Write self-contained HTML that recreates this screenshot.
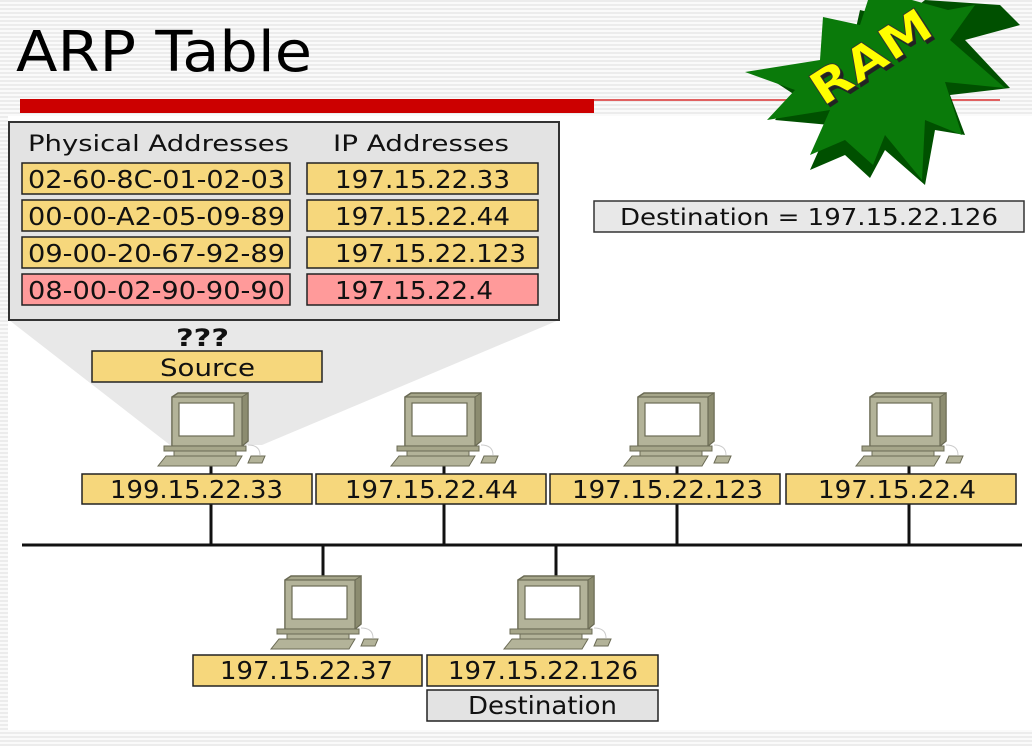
<!DOCTYPE html>
<html><head><meta charset="utf-8"><style>
html,body{margin:0;padding:0;background:#fff;}
svg{display:block;}
text{font-family:"DejaVu Sans","Liberation Sans",sans-serif;fill:#111;}
</style></head><body>
<svg width="1032" height="746" viewBox="0 0 1032 746" xmlns="http://www.w3.org/2000/svg">
<defs>
<pattern id="st" width="4" height="4" patternUnits="userSpaceOnUse"><rect width="4" height="2" fill="#ececec"/><rect y="2" width="4" height="2" fill="#fafafa"/></pattern>
<g id="pc">
  <path d="M2 4 L8 0 L78 0 L78 48 L72 53 L2 53 Z" fill="#a6a68a" stroke="#6b6b55" stroke-width="1.5"/>
  <path d="M72 4 L78 0 L78 48 L72 53 Z" fill="#8c8c70" stroke="#6b6b55" stroke-width="1"/>
  <rect x="2" y="4" width="70" height="49" fill="#b3b399" stroke="#6b6b55" stroke-width="1.2"/>
  <rect x="9" y="10" width="55" height="33" fill="#fff" stroke="#6b6b55" stroke-width="1.2"/>
  <rect x="-6" y="53" width="82" height="5" fill="#a6a68a" stroke="#6b6b55" stroke-width="1"/>
  <rect x="4" y="58" width="62" height="5" fill="#b3b399" stroke="#6b6b55" stroke-width="1"/>
  <path d="M-4 63 L72 63 L66 73 L-12 73 Z" fill="#b3b399" stroke="#6b6b55" stroke-width="1"/>
  <path d="M78 52 Q90 52 90 62" fill="none" stroke="#ccc" stroke-width="1"/>
  <path d="M81 63 L95 63 L92 70 L78 70 Z" fill="#b3b399" stroke="#6b6b55" stroke-width="1"/>
</g>
</defs>
<rect x="0" y="0" width="1032" height="116" fill="url(#st)"/>
<rect x="0" y="116" width="8" height="620" fill="url(#st)"/>
<rect x="0" y="730" width="1032" height="16" fill="url(#st)"/>
<text x="16" y="71" font-size="56" textLength="296" lengthAdjust="spacingAndGlyphs" style="fill:#000">ARP Table</text>
<rect x="20" y="99" width="574" height="14" fill="#cc0000"/>
<rect x="594" y="99" width="406" height="2" fill="#e06060"/>

<polygon points="9,320 559,320 262,445 170,445" fill="#e8e8e8"/>
<rect x="9" y="122" width="550" height="198" fill="#e3e3e3" stroke="#333" stroke-width="2"/>
<text x="28" y="151" font-size="22" textLength="261" lengthAdjust="spacingAndGlyphs">Physical Addresses</text>
<text x="333" y="151" font-size="22" textLength="176" lengthAdjust="spacingAndGlyphs">IP Addresses</text>
<g stroke="#222" stroke-width="1.5">
<rect x="22" y="163" width="268" height="31" fill="#f6d77c"/>
<rect x="22" y="200" width="268" height="31" fill="#f6d77c"/>
<rect x="22" y="237" width="268" height="31" fill="#f6d77c"/>
<rect x="22" y="274" width="268" height="31" fill="#ff9a9a"/>
<rect x="307" y="163" width="231" height="31" fill="#f6d77c"/>
<rect x="307" y="200" width="231" height="31" fill="#f6d77c"/>
<rect x="307" y="237" width="231" height="31" fill="#f6d77c"/>
<rect x="307" y="274" width="231" height="31" fill="#ff9a9a"/>
</g>
<g font-size="25">
<text x="28" y="188" textLength="257" lengthAdjust="spacingAndGlyphs">02-60-8C-01-02-03</text>
<text x="28" y="225" textLength="257" lengthAdjust="spacingAndGlyphs">00-00-A2-05-09-89</text>
<text x="28" y="262" textLength="257" lengthAdjust="spacingAndGlyphs">09-00-20-67-92-89</text>
<text x="28" y="299" textLength="257" lengthAdjust="spacingAndGlyphs">08-00-02-90-90-90</text>
<text x="335" y="188" textLength="175" lengthAdjust="spacingAndGlyphs">197.15.22.33</text>
<text x="335" y="225" textLength="175" lengthAdjust="spacingAndGlyphs">197.15.22.44</text>
<text x="335" y="262" textLength="191" lengthAdjust="spacingAndGlyphs">197.15.22.123</text>
<text x="335" y="299" textLength="158" lengthAdjust="spacingAndGlyphs">197.15.22.4</text>
</g>
<text x="176" y="346" font-size="24" font-weight="bold" textLength="53" lengthAdjust="spacingAndGlyphs">???</text>
<rect x="92" y="351" width="230" height="31" fill="#f6d77c" stroke="#222" stroke-width="1.5"/>
<text x="160" y="376" font-size="24" textLength="95" lengthAdjust="spacingAndGlyphs">Source</text>

<rect x="594" y="201" width="430" height="31" fill="#e8e8e8" stroke="#333" stroke-width="1.5"/>
<text x="620" y="225" font-size="23" textLength="378" lengthAdjust="spacingAndGlyphs">Destination = 197.15.22.126</text>

<g>
<polygon points="760,72 850,55 860,10 900,20 925,0 1000,5 1020,25 965,40 1010,88 950,95 965,135 935,130 925,185 885,150 870,178 845,155 810,170 830,125 775,120 795,95" fill="#005000"/>
<polygon points="745,72 820,60 823,17 860,25 868,0 912,0 948,10 975,5 950,40 1005,88 945,82 962,135 925,120 922,180 885,135 873,165 845,140 810,155 830,110 767,120 795,90" fill="#0a7a0a"/>
<text x="0" y="0" font-size="46" font-weight="bold" textLength="135" lengthAdjust="spacingAndGlyphs" transform="translate(826,110) rotate(-33)" style="fill:#222">RAM</text>
<text x="0" y="0" font-size="46" font-weight="bold" textLength="135" lengthAdjust="spacingAndGlyphs" transform="translate(823,107) rotate(-33)" style="fill:#ffff00;stroke:#333;stroke-width:0.8">RAM</text>
</g>

<g stroke="#111" stroke-width="3">
<line x1="22" y1="545" x2="1022" y2="545"/>
<line x1="211" y1="460" x2="211" y2="545"/>
<line x1="444" y1="460" x2="444" y2="545"/>
<line x1="677" y1="460" x2="677" y2="545"/>
<line x1="909" y1="460" x2="909" y2="545"/>
<line x1="323" y1="545" x2="323" y2="576"/>
<line x1="556" y1="545" x2="556" y2="576"/>
</g>
<use href="#pc" x="170" y="393"/>
<use href="#pc" x="403" y="393"/>
<use href="#pc" x="636" y="393"/>
<use href="#pc" x="868" y="393"/>
<use href="#pc" x="283" y="576"/>
<use href="#pc" x="516" y="576"/>
<g stroke="#222" stroke-width="1.5" fill="#f6d77c">
<rect x="82" y="474" width="230" height="30"/>
<rect x="316" y="474" width="230" height="30"/>
<rect x="550" y="474" width="230" height="30"/>
<rect x="786" y="474" width="230" height="30"/>
<rect x="193" y="655" width="229" height="31"/>
<rect x="427" y="655" width="231" height="31"/>
<rect x="427" y="690" width="231" height="31" fill="#e3e3e3"/>
</g>
<g font-size="25">
<text x="110" y="498" textLength="173" lengthAdjust="spacingAndGlyphs">199.15.22.33</text>
<text x="345" y="498" textLength="173" lengthAdjust="spacingAndGlyphs">197.15.22.44</text>
<text x="572" y="498" textLength="191" lengthAdjust="spacingAndGlyphs">197.15.22.123</text>
<text x="818" y="498" textLength="158" lengthAdjust="spacingAndGlyphs">197.15.22.4</text>
<text x="220" y="679" textLength="173" lengthAdjust="spacingAndGlyphs">197.15.22.37</text>
<text x="448" y="679" textLength="190" lengthAdjust="spacingAndGlyphs">197.15.22.126</text>
<text x="468" y="714" textLength="149" lengthAdjust="spacingAndGlyphs">Destination</text>
</g>
</svg>
</body></html>
